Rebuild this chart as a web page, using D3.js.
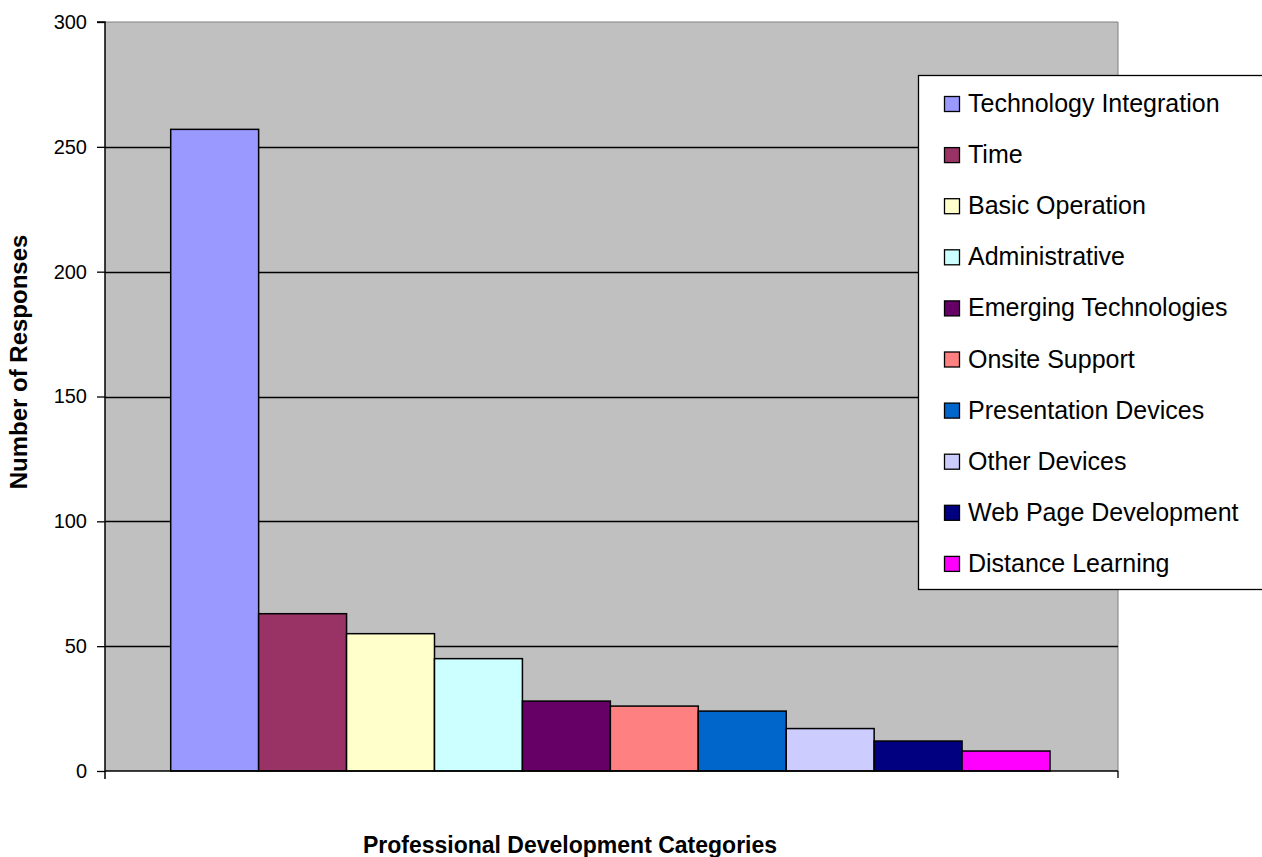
<!DOCTYPE html>
<html><head><meta charset="utf-8">
<script src="https://cdn.jsdelivr.net/npm/d3@7"></script>
<style>body{margin:0;background:#fff;overflow:hidden}svg{display:block}</style>
</head><body>
<svg id="c" width="1262" height="857"></svg>
<script>
const categories = ["Technology Integration","Time","Basic Operation","Administrative","Emerging Technologies","Onsite Support","Presentation Devices","Other Devices","Web Page Development","Distance Learning"];
const values = [257, 63, 55, 45, 28, 26, 24, 17, 12, 8];
const colors = ["#9999FF","#993366","#FFFFCC","#CCFFFF","#660066","#FF8080","#0066CC","#CCCCFF","#000080","#FF00FF"];
const yTicks = [0, 50, 100, 150, 200, 250, 300];
const xTitle = "Professional Development Categories";
const yTitle = "Number of Responses";

const svg = d3.select("#c");
const L = 105, R = 1118, T = 22, B = 771;
const font = "Liberation Sans, Arial, sans-serif";

const y = d3.scaleLinear().domain([0, 300]).range([B, T]);
const x = d3.scaleBand().domain(categories).range([170.7, 1050]).paddingInner(0).paddingOuter(0);

svg.append("rect").attr("x", L).attr("y", T).attr("width", R - L).attr("height", B - T).attr("fill", "#C0C0C0");
svg.append("path").attr("d", `M${L},${T}H${R}V${B}`).attr("fill", "none").attr("stroke", "#808080").attr("stroke-width", 1);

svg.append("g").selectAll("line").data(yTicks.filter(d => d > 0 && d < 300)).join("line")
  .attr("x1", L).attr("x2", R).attr("y1", d => Math.round(y(d)) + 0.5).attr("y2", d => Math.round(y(d)) + 0.5)
  .attr("stroke", "#000").attr("stroke-width", 1.3);

svg.append("g").selectAll("rect").data(categories).join("rect")
  .attr("x", d => x(d)).attr("y", (d, i) => y(values[i]))
  .attr("width", x.bandwidth()).attr("height", (d, i) => B - y(values[i]))
  .attr("fill", (d, i) => colors[i]).attr("stroke", "#000").attr("stroke-width", 1.5);

const yAxis = d3.axisLeft(y).tickValues(yTicks).tickSize(8).tickPadding(10).tickFormat(d3.format("d"));
const gy = svg.append("g").attr("transform", `translate(${L},0)`).call(yAxis);
gy.select(".domain").attr("stroke", "#000").attr("stroke-width", 1.5).attr("d", `M-8,${T}H0V${B + 8}`);
gy.selectAll(".tick line").attr("stroke", "#000").attr("stroke-width", 1.3);
gy.selectAll(".tick text").attr("font-family", font).attr("font-size", 20).attr("fill", "#000");

const gx = svg.append("g").attr("transform", `translate(0,${B})`);
gx.append("line").attr("x1", L).attr("x2", R).attr("y1", 0).attr("y2", 0).attr("stroke", "#000").attr("stroke-width", 1.5);
gx.append("line").attr("x1", R).attr("x2", R).attr("y1", 0).attr("y2", 7).attr("stroke", "#000").attr("stroke-width", 1.3);

svg.append("text").attr("x", 570).attr("y", 853).attr("text-anchor", "middle")
  .attr("font-family", font).attr("font-weight", "bold").attr("font-size", 23).text(xTitle);
svg.append("text").attr("transform", "translate(27,362) rotate(-90)").attr("text-anchor", "middle")
  .attr("font-family", font).attr("font-weight", "bold").attr("font-size", 24).text(yTitle);

const lg = svg.append("g");
lg.append("rect").attr("x", 918.5).attr("y", 75.5).attr("width", 360).attr("height", 514)
  .attr("fill", "#fff").attr("stroke", "#000").attr("stroke-width", 1.3);
const items = lg.selectAll("g.item").data(categories).join("g").attr("class", "item")
  .attr("transform", (d, i) => `translate(0,${104 + i * 51.1})`);
items.append("rect").attr("x", 944.5).attr("y", -7.5).attr("width", 15).attr("height", 15)
  .attr("fill", (d, i) => colors[i]).attr("stroke", "#000").attr("stroke-width", 1.3);
items.append("text").attr("x", 968).attr("y", 8)
  .attr("font-family", font).attr("font-size", 25).attr("fill", "#000").text(d => d);
</script>
</body></html>
